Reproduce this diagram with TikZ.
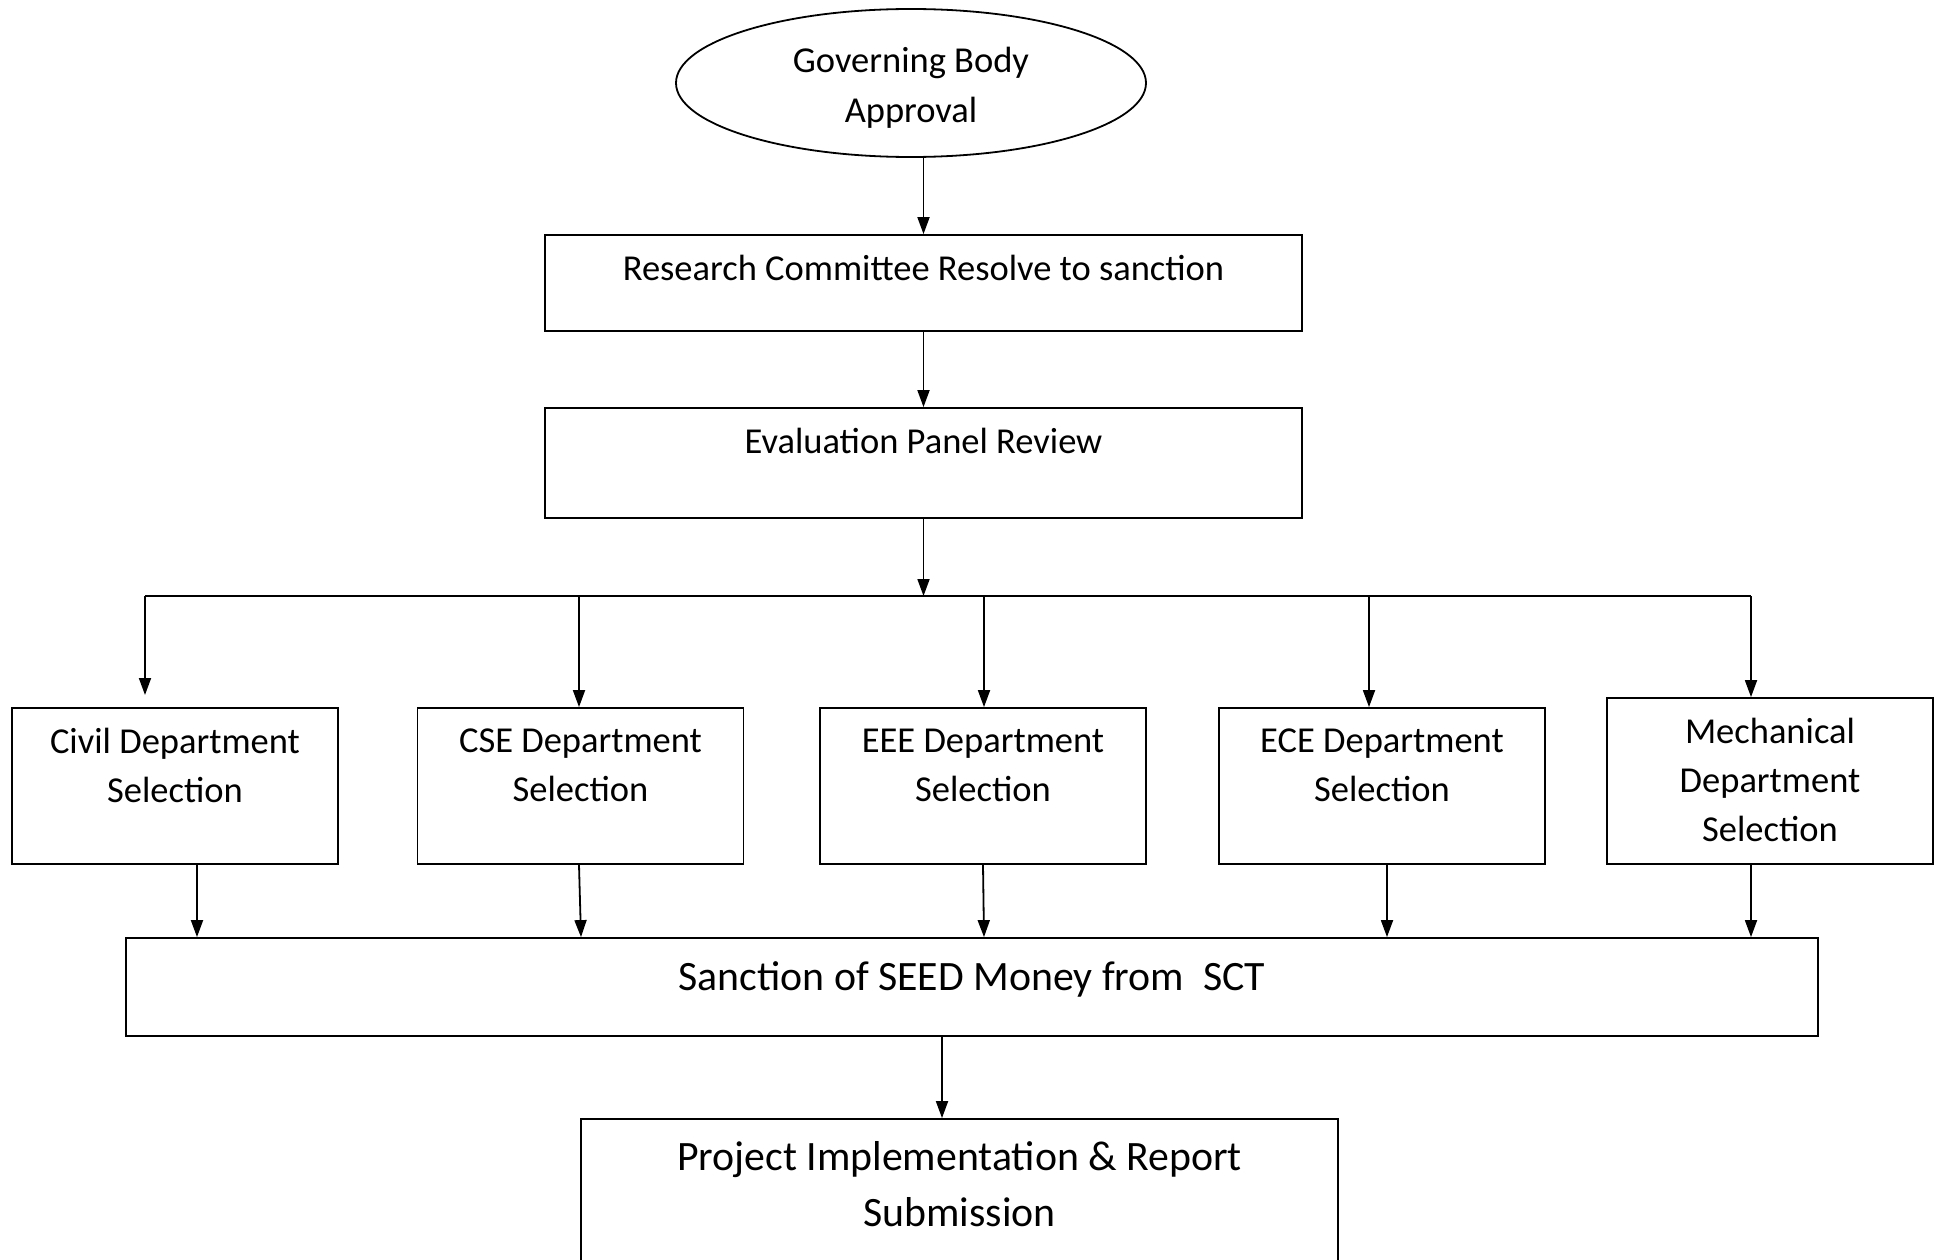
\documentclass[tikz,border=0pt]{standalone}
\usepackage{fontspec}
\setmainfont{Carlito}
\usetikzlibrary{arrows.meta,shapes.geometric,calc}
\begin{document}
\begin{tikzpicture}[x=1pt,y=-1pt,
  box/.style={draw,line width=1.8pt,inner sep=0pt},
  arr/.style={line width=1.8pt,-{Triangle[length=17pt,width=12pt]}},
  ln/.style={line width=1.8pt},
  lbl/.style={align=center,inner sep=0pt,font=\fontsize{36.5}{49}\selectfont},
  big/.style={align=center,inner sep=0pt,font=\fontsize{41.8}{56}\selectfont}]
\useasboundingbox (0,0) rectangle (1943,1260);
\clip (0,0) rectangle (1943,1260);
\fill[white] (0,0) rectangle (1943,1260);

% nodes
\node[draw,ellipse,line width=1.8pt,minimum width=470pt,minimum height=148pt] (gb) at (911,83) {};
\node[align=center,inner sep=0pt,font=\fontsize{36.5}{50}\selectfont] (gbt) at (911,88) {Governing Body\\Approval};

\node[box,minimum width=757pt,minimum height=96pt] (rc) at (923.5,283) {};
\node[lbl] (rct) at (923.5,268) {Research Committee Resolve to sanction};

\node[box,minimum width=757pt,minimum height=110pt] (ev) at (923.5,463) {};
\node[lbl] (evt) at (923.5,441) {Evaluation Panel Review};

\node[box,minimum width=326pt,minimum height=156pt] (civ) at (175,786) {};
\node[lbl] (civt) at (175,765) {Civil Department\\Selection};
\node[box,minimum width=326pt,minimum height=156pt] (cse) at (580.5,786) {};
\node[lbl] (cset) at (580.5,765) {CSE Department\\Selection};
\node[box,minimum width=326pt,minimum height=156pt] (eee) at (983,786) {};
\node[lbl] (eeet) at (983,765) {EEE Department\\Selection};
\node[box,minimum width=326pt,minimum height=156pt] (ece) at (1382,786) {};
\node[lbl] (ecet) at (1382,765) {ECE Department\\Selection};
\node[box,minimum width=326pt,minimum height=166pt] (mec) at (1770,781) {};
\node[lbl] (mect) at (1770,780) {Mechanical\\Department\\Selection};

\node[box,minimum width=1692pt,minimum height=98pt] (sc) at (972,987) {};
\node[big] (sct) at (972,979) {Sanction of SEED Money from \ SCT};

\node[box,minimum width=757pt,minimum height=200pt] (pi) at (959.5,1219) {};
\node[big] (pit) at (959.5,1184) {Project Implementation \& Report\\Submission};

% connectors
\draw[arr] (gb.south -| rc.north) -- (rc.north);
\draw[arr] (rc.south) -- (ev.north);
\coordinate (bus) at (923.5,596);
\coordinate (b1) at (145,596);
\coordinate (b2) at (579,596);
\coordinate (b3) at (984,596);
\coordinate (b4) at (1369,596);
\coordinate (b5) at (1751,596);
\draw[arr] (ev.south) -- (bus);
\draw[ln] (b1) -- (b5);
\draw[arr] (b1) -- ++(0,99);
\draw[arr] (b2) -- (b2 |- cse.north);
\draw[arr] (b3) -- (b3 |- eee.north);
\draw[arr] (b4) -- (b4 |- ece.north);
\draw[arr] (b5) -- (b5 |- mec.north);

\draw[arr] (civ.south -| 197,0) -- (197,0 |- sc.north);
\draw[arr] (cse.south -| 579,0) -- (581,0 |- sc.north);
\draw[arr] (eee.south -| 983,0) -- (984,0 |- sc.north);
\draw[arr] (ece.south -| 1387,0) -- (1387,0 |- sc.north);
\draw[arr] (mec.south -| 1751,0) -- (1751,0 |- sc.north);

\draw[arr] (sc.south -| 942,0) -- (942,0 |- pi.north);
\end{tikzpicture}
\end{document}
